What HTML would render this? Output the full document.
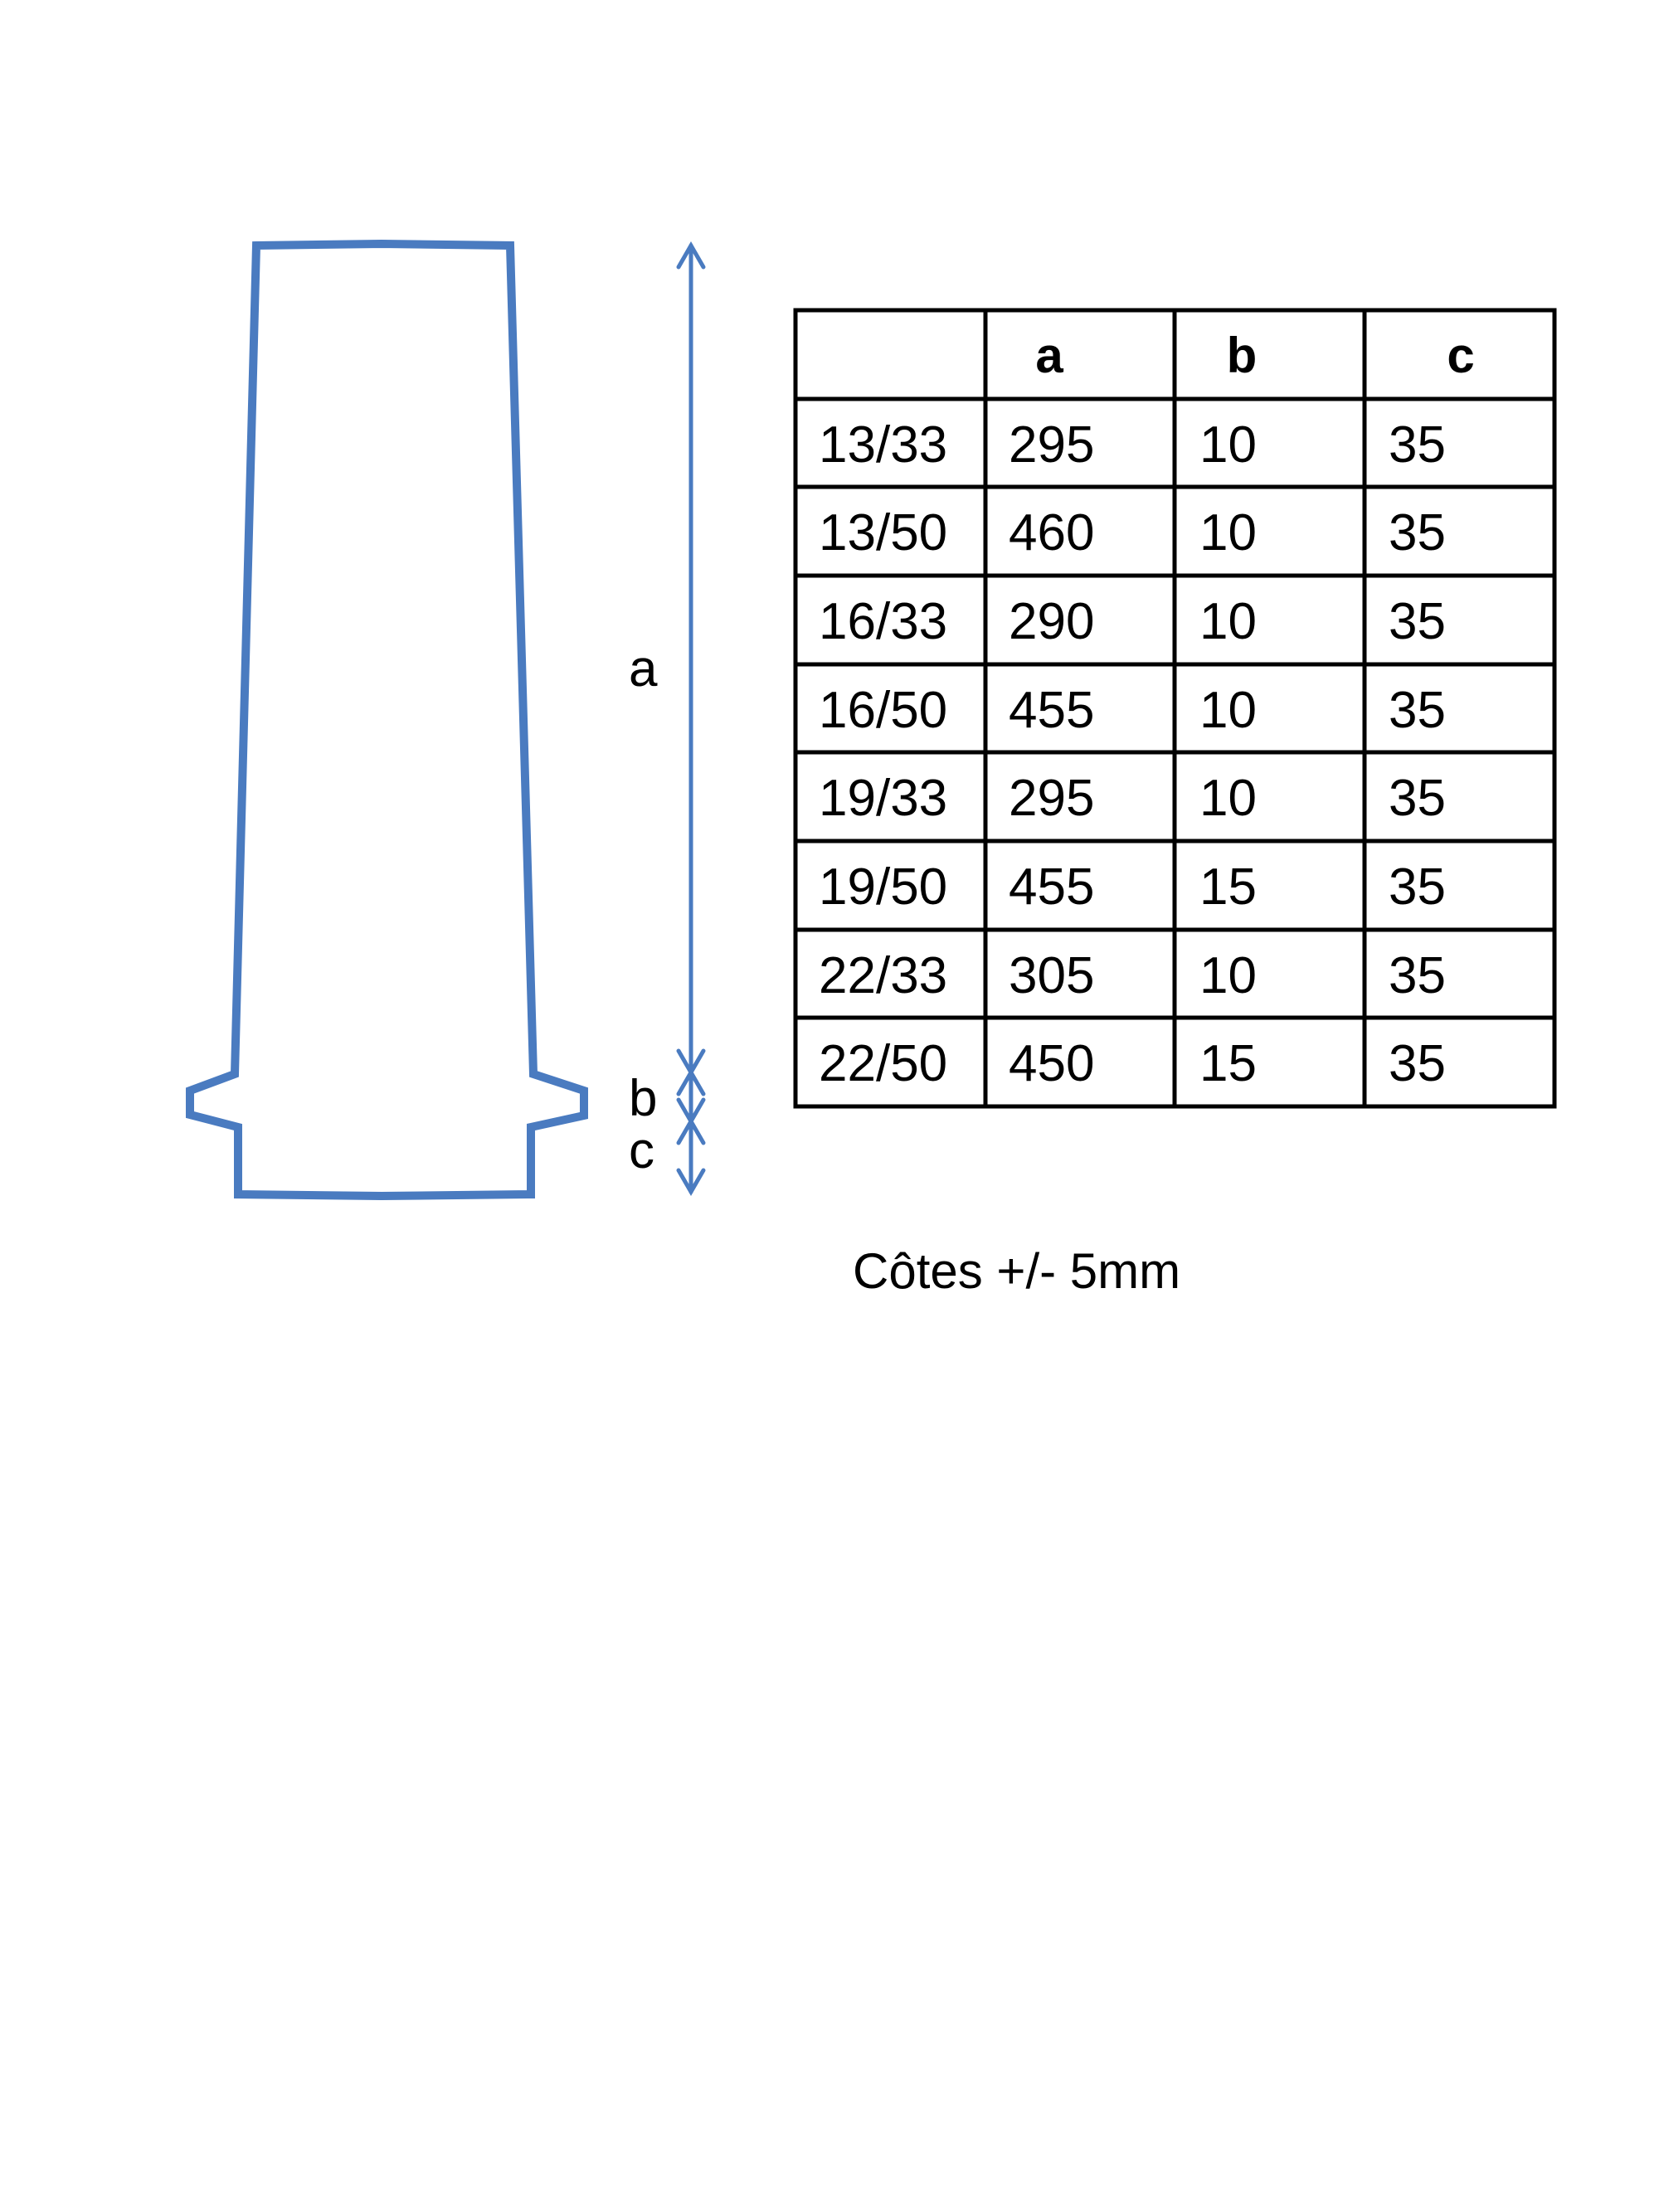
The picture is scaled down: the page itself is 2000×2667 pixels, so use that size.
<!DOCTYPE html>
<html><head><meta charset="utf-8"><style>
html,body{margin:0;padding:0;background:#fff;}
svg{display:block;}
</style></head><body>
<svg width="2000" height="2667" viewBox="0 0 2000 2667" xmlns="http://www.w3.org/2000/svg">
<rect width="2000" height="2667" fill="#fff"/>
<path d="M309,296 L460,294 L615,296 L643,1295 L704,1315 L704,1345 L640,1359 L640,1440 L460,1442 L287,1440 L287,1359 L229,1344 L229,1315 L283,1295 Z" fill="none" stroke="#4a7bc0" stroke-width="10" stroke-linejoin="miter"/>
<g stroke="#4a7bc0" stroke-width="5" fill="none" stroke-linecap="round">
<line x1="833" y1="296" x2="833" y2="1437"/>
<polyline points="818,322 833,296 848,322"/>
<polyline points="818,1267 833,1293 848,1267"/>
<polyline points="818,1319 833,1293 848,1319"/>
<polyline points="818,1326 833,1352 848,1326"/>
<polyline points="818,1378 833,1352 848,1378"/>
<polyline points="818,1411 833,1437 848,1411"/>
</g>
<g font-family="Liberation Sans, sans-serif" font-size="62" fill="#000">
<text x="758" y="827">a</text>
<text x="758" y="1345">b</text>
<text x="758" y="1408">c</text>
</g>
<g stroke="#000" stroke-width="5" fill="none">
<rect x="959" y="374" width="915" height="960"/>
<line x1="1188" y1="374" x2="1188" y2="1334"/>
<line x1="1416" y1="374" x2="1416" y2="1334"/>
<line x1="1645" y1="374" x2="1645" y2="1334"/>
<line x1="959" y1="481" x2="1874" y2="481"/>
<line x1="959" y1="587" x2="1874" y2="587"/>
<line x1="959" y1="694" x2="1874" y2="694"/>
<line x1="959" y1="801" x2="1874" y2="801"/>
<line x1="959" y1="907" x2="1874" y2="907"/>
<line x1="959" y1="1014" x2="1874" y2="1014"/>
<line x1="959" y1="1121" x2="1874" y2="1121"/>
<line x1="959" y1="1227" x2="1874" y2="1227"/>
</g>
<g font-family="Liberation Sans, sans-serif" font-size="60" fill="#000" font-weight="bold" text-anchor="middle">
<text x="1265" y="449">a</text>
<text x="1497" y="449">b</text>
<text x="1761" y="449">c</text>
</g>
<g font-family="Liberation Sans, sans-serif" font-size="62" fill="#000">
<text x="987" y="557">13/33</text><text x="1216" y="557">295</text><text x="1446" y="557">10</text><text x="1674" y="557">35</text>
<text x="987" y="663">13/50</text><text x="1216" y="663">460</text><text x="1446" y="663">10</text><text x="1674" y="663">35</text>
<text x="987" y="770">16/33</text><text x="1216" y="770">290</text><text x="1446" y="770">10</text><text x="1674" y="770">35</text>
<text x="987" y="877">16/50</text><text x="1216" y="877">455</text><text x="1446" y="877">10</text><text x="1674" y="877">35</text>
<text x="987" y="983">19/33</text><text x="1216" y="983">295</text><text x="1446" y="983">10</text><text x="1674" y="983">35</text>
<text x="987" y="1090">19/50</text><text x="1216" y="1090">455</text><text x="1446" y="1090">15</text><text x="1674" y="1090">35</text>
<text x="987" y="1197">22/33</text><text x="1216" y="1197">305</text><text x="1446" y="1197">10</text><text x="1674" y="1197">35</text>
<text x="987" y="1303">22/50</text><text x="1216" y="1303">450</text><text x="1446" y="1303">15</text><text x="1674" y="1303">35</text>
<text x="1028" y="1553" font-size="60">Côtes +/- 5mm</text>
</g>
</svg>
</body></html>
